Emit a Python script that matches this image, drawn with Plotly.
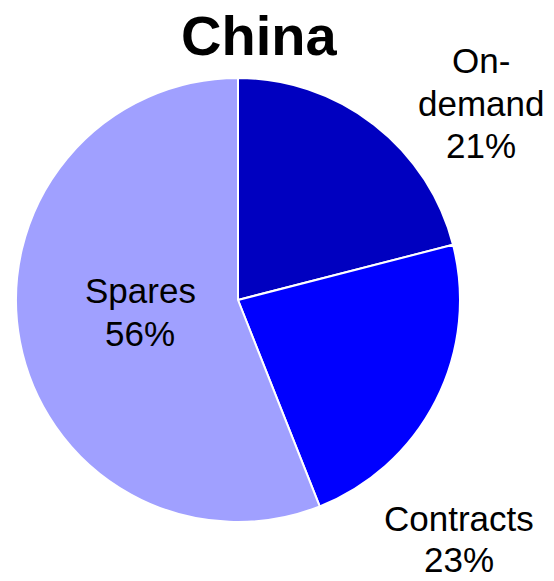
import plotly.graph_objects as go

# Share of capacity by purchase type
labels = ["On-demand", "Contracts", "Spares"]
shares = [21, 23, 56]
colors = ["#0000C0", "#0000FF", "#A0A0FF"]

W, H = 554, 581

# Label placement in pixels: centre x and the y of the first text line
label_cx = [481, 459, 140]
label_top = [61, 518, 290]
line_step = [42.5, 41, 43]

fig = go.Figure()
fig.add_trace(go.Pie(
    labels=labels,
    values=shares,
    sort=False,
    direction="clockwise",
    rotation=0,
    marker=dict(colors=colors, line=dict(color="white", width=2)),
    textinfo="none",
    domain=dict(x=[16 / W, 460 / W], y=[1 - 522 / H, 1 - 78 / H]),
    showlegend=False,
))

font = dict(family="Liberation Sans, Arial, sans-serif", size=35, color="black")
annotations = []
for lab, val, cx, top, step in zip(labels, shares, label_cx, label_top, line_step):
    lines = lab.replace("-", "-\n").split("\n") + [f"{val}%"]
    for i, line in enumerate(lines):
        annotations.append(dict(
            x=cx / W, y=1 - (top + i * step) / H, xref="paper", yref="paper",
            text=line, showarrow=False, font=font,
            xanchor="center", yanchor="middle", align="center",
        ))

annotations.append(dict(
    x=259 / W, y=1 - 36 / H, xref="paper", yref="paper", text="<b>China</b>",
    showarrow=False, xanchor="center", yanchor="middle",
    font=dict(family="Liberation Sans, Arial, sans-serif", size=56, color="black"),
))

fig.update_layout(
    width=W, height=H,
    margin=dict(l=0, r=0, t=0, b=0),
    paper_bgcolor="white", plot_bgcolor="white",
    annotations=annotations,
)

fig.write_html("out.html")
